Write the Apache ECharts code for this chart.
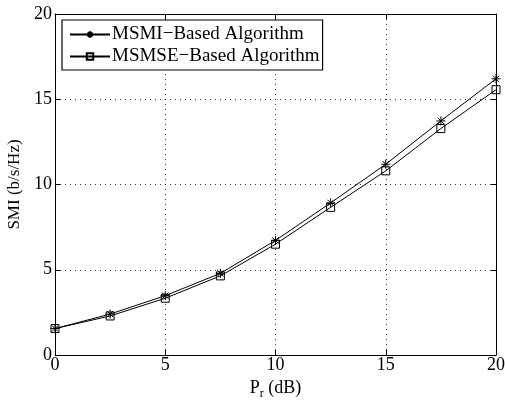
<!DOCTYPE html>
<html><head><meta charset="utf-8">
<script src="https://cdn.jsdelivr.net/npm/echarts@6/dist/echarts.min.js"></script>
<style>html,body{margin:0;padding:0;background:#fff}#c{width:505px;height:403px}</style>
</head><body><div id="c"></div>
<script>
var xValues = [0, 2.5, 5, 7.5, 10, 12.5, 15, 17.5, 20];
var msmi = [1.55, 2.40, 3.48, 4.79, 6.72, 8.92, 11.19, 13.73, 16.20];
var msmse = [1.55, 2.29, 3.33, 4.64, 6.50, 8.66, 10.80, 13.28, 15.56];
var seriesNames = ['MSMI\u2212Based Algorithm', 'MSMSE\u2212Based Algorithm'];
var xTicks = [0, 5, 10, 15, 20];
var yTicks = [0, 5, 10, 15, 20];

var font = 'Liberation Serif, Times New Roman, serif';
var star = 'path://M5,0L5,10M0,5L10,5M1.5,1.5L8.5,8.5M8.5,1.5L1.5,8.5';
var square = 'path://M0,0L10,0L10,10L0,10Z';
function pairs(ys){ return xValues.map(function(x,i){return [x, ys[i]];}); }

var chart = echarts.init(document.getElementById('c'), null, {renderer:'canvas'});
var axisCommon = {
  min: 0, max: 20, interval: 5,
  axisLine: {show: true, onZero: false, lineStyle: {color: '#000', width: 1}},
  axisTick: {show: true, inside: true, length: 5, lineStyle: {color: '#000'}},
  splitLine: {show: false}
};
chart.setOption({
  animation: false,
  backgroundColor: '#fff',
  grid: {left: 55, right: 9, top: 14, bottom: 48, containLabel: false, outerBoundsMode: 'none'},
  xAxis: [
    Object.assign({}, axisCommon, {type: 'value', position: 'bottom',
      axisLabel: {color: '#000', fontFamily: font, fontSize: 18, margin: 1,
        formatter: function(v){ return xTicks.indexOf(v) >= 0 ? String(v) : ''; }},
      splitLine: {show: true, lineStyle: {color: '#000', type: [1, 4], width: 1, opacity: 0.8}},
      name: '{a|P}{s|r}{a| (dB)}', nameLocation: 'middle', nameGap: 7,
      nameTextStyle: {rich: {a: {fontFamily: font, fontSize: 18, color: '#000'},
                             s: {fontFamily: font, fontSize: 12, color: '#000', verticalAlign: 'bottom', padding: [12,0,0,0]}}}
    }),
    Object.assign({}, axisCommon, {type: 'value', position: 'top', axisLabel: {show: false}})
  ],
  yAxis: [
    Object.assign({}, axisCommon, {type: 'value', position: 'left',
      axisLabel: {color: '#000', fontFamily: font, fontSize: 18, margin: 3,
        formatter: function(v){ return yTicks.indexOf(v) >= 0 ? String(v) : ''; }},
      splitLine: {show: true, lineStyle: {color: '#000', type: [1, 4], width: 1, opacity: 0.8}},
      name: 'SMI (b/s/Hz)', nameLocation: 'middle', nameGap: 29,
      nameTextStyle: {fontFamily: font, fontSize: 17, color: '#000'}
    }),
    Object.assign({}, axisCommon, {type: 'value', position: 'right', axisLabel: {show: false}})
  ],
  legend: {
    left: 62, top: 20, orient: 'vertical',
    backgroundColor: '#fff', borderColor: '#000', borderWidth: 1.2,
    padding: [5, 3, 4, 7], itemGap: 3, itemWidth: 40, itemHeight: 8,
    textStyle: {fontFamily: font, fontSize: 19, color: '#000', padding: [0,0,0,-3]},
    data: [seriesNames[0], seriesNames[1]]
  },
  series: [
    {name: seriesNames[0], type: 'line', data: pairs(msmi), symbol: star, symbolSize: 9,
     showAllSymbol: true,
     lineStyle: {color: '#000', width: 1}, itemStyle: {color: 'none', borderColor: '#000', borderWidth: 1}},
    {name: seriesNames[1], type: 'line', data: pairs(msmse), symbol: square, symbolSize: 8,
     showAllSymbol: true,
     lineStyle: {color: '#000', width: 1}, itemStyle: {color: 'none', borderColor: '#000', borderWidth: 1}}
  ]
});
</script></body></html>
